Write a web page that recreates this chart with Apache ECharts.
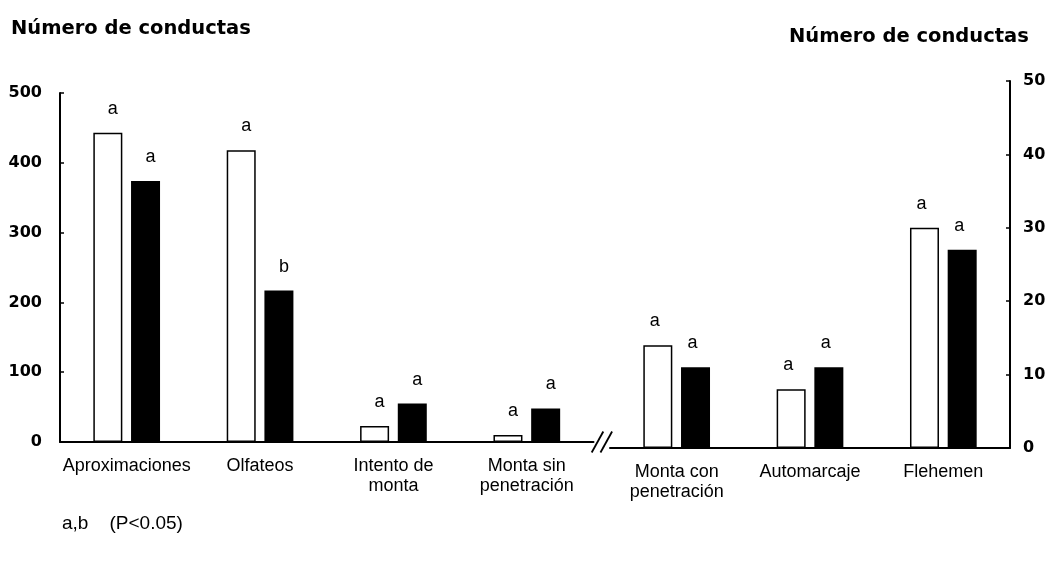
<!DOCTYPE html>
<html>
<head>
<meta charset="utf-8">
<script src="https://cdn.jsdelivr.net/npm/echarts@6/dist/echarts.min.js"></script>
<style>
  html, body { margin: 0; padding: 0; background: #fff; }
  #chart { width: 1052px; height: 568px; }
</style>
</head>
<body>
<div id="chart"></div>
<script>
// Behaviours with low counts (left axis, 0–500)
const categoriesLeft = ['Aproximaciones', 'Olfateos', 'Intento de\nmonta', 'Monta sin\npenetración'];
const group1Left = [443, 418, 23, 10];
const group2Left = [374, 217, 55, 48];
const letters1Left = ['a', 'a', 'a', 'a'];
const letters2Left = ['a', 'b', 'a', 'a'];

// Behaviours with high counts (right axis, 0–50)
const categoriesRight = ['Monta con\npenetración', 'Automarcaje', 'Flehemen'];
const group1Right = [14, 8, 30];
const group2Right = [11, 11, 27];
const letters1Right = ['a', 'a', 'a'];
const letters2Right = ['a', 'a', 'a'];

const axisTitle = 'Número de conductas';
const footnote = 'a,b    (P<0.05)';

// Layout of the two panels
const gridLeft = { left: 60, top: 93, width: 533.5, height: 349 };
const gridRight = { left: 610, top: 81, width: 400, height: 367 };

const regular = 'Liberation Sans, Arial, sans-serif';
const bold = 'DejaVu Sans, sans-serif';

function letterLabel(letters, dx) {
  return {
    show: true,
    position: 'top',
    distance: 15,
    offset: [dx, 0],
    color: '#000',
    fontFamily: regular,
    fontSize: 18,
    formatter: p => letters[p.dataIndex]
  };
}

const whiteBar = { color: '#fff', borderColor: '#000', borderWidth: 1.5 };
const blackBar = { color: '#000' };

function xAxisFor(gridIndex, cats) {
  return {
    type: 'category',
    gridIndex,
    data: cats,
    axisLine: { lineStyle: { color: '#000', width: 2 } },
    axisTick: { show: false },
    axisLabel: {
      color: '#000', fontFamily: regular, fontSize: 18, lineHeight: 20,
      margin: 14, interval: 0
    }
  };
}

function yAxisFor(gridIndex, position, max, interval, margin, padding) {
  return {
    type: 'value',
    gridIndex,
    position,
    min: 0,
    max,
    interval,
    splitLine: { show: false },
    axisLine: { show: true, lineStyle: { color: '#000', width: 2 } },
    axisTick: { show: true, inside: true, length: 4, lineStyle: { color: '#000', width: 1.5 } },
    axisLabel: {
      color: '#000', fontFamily: bold, fontWeight: 'bold', fontSize: 16,
      margin, padding
    }
  };
}

// Axis break marker between the two panels
const baseY = gridLeft.top + gridLeft.height;
const breakX = gridLeft.left + gridLeft.width;
function slash(cx) {
  return {
    type: 'line',
    shape: { x1: cx - 5.8, y1: baseY + 10.5, x2: cx + 5.8, y2: baseY - 10.5 },
    style: { stroke: '#000', lineWidth: 1.8 }
  };
}

const chart = echarts.init(document.getElementById('chart'), null, { renderer: 'canvas' });

chart.setOption({
  animation: false,
  backgroundColor: '#fff',
  title: [
    { text: axisTitle, left: 11, top: 19, padding: 0,
      textStyle: { fontFamily: bold, fontWeight: 'bold', fontSize: 19.5, color: '#000' } },
    { text: axisTitle, left: 789, top: 27, padding: 0,
      textStyle: { fontFamily: bold, fontWeight: 'bold', fontSize: 19.5, color: '#000' } },
    { text: footnote, left: 62, top: 514, padding: 0,
      textStyle: { fontFamily: regular, fontWeight: 'normal', fontSize: 19, color: '#000' } }
  ],
  grid: [
    Object.assign({ containLabel: false }, gridLeft),
    Object.assign({ containLabel: false }, gridRight)
  ],
  xAxis: [xAxisFor(0, categoriesLeft), xAxisFor(1, categoriesRight)],
  yAxis: [
    yAxisFor(0, 'left', 500, 100, 18, 0),
    yAxisFor(1, 'right', 50, 10, 13, [8, 0, 0, 0])
  ],
  series: [
    { name: 'Grupo 1', type: 'bar', xAxisIndex: 0, yAxisIndex: 0, data: group1Left,
      barWidth: 29, barGap: '30%', itemStyle: whiteBar, label: letterLabel(letters1Left, 5) },
    { name: 'Grupo 2', type: 'bar', xAxisIndex: 0, yAxisIndex: 0, data: group2Left,
      barWidth: 29, barGap: '30%', itemStyle: blackBar, label: letterLabel(letters2Left, 5) },
    { name: 'Grupo 1', type: 'bar', xAxisIndex: 1, yAxisIndex: 1, data: group1Right,
      barWidth: 29, barGap: '30%', itemStyle: whiteBar, label: letterLabel(letters1Right, -3) },
    { name: 'Grupo 2', type: 'bar', xAxisIndex: 1, yAxisIndex: 1, data: group2Right,
      barWidth: 29, barGap: '30%', itemStyle: blackBar, label: letterLabel(letters2Right, -3) }
  ],
  graphic: [
    { type: 'group', children: [slash(breakX + 4), slash(breakX + 12.8)] }
  ]
});
</script>
</body>
</html>
